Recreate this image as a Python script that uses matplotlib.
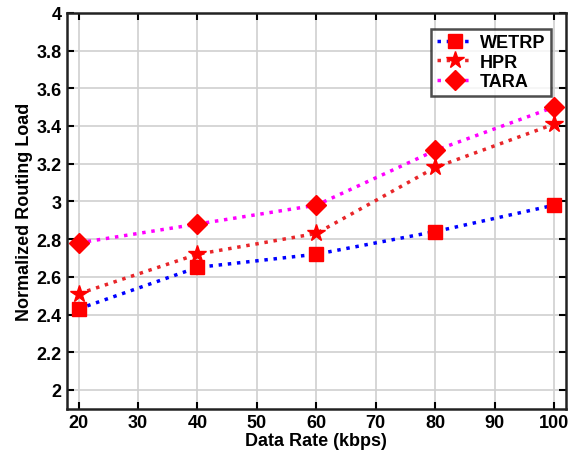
import matplotlib.pyplot as plt
import numpy as np

plt.rcParams['font.family'] = ['Liberation Sans', 'DejaVu Sans']
plt.rcParams['font.weight'] = 'bold'

rate = [20, 40, 60, 80, 100]
wetrp = [2.43, 2.65, 2.72, 2.84, 2.98]
hpr = [2.51, 2.72, 2.83, 3.18, 3.41]
tara = [2.78, 2.88, 2.98, 3.27, 3.50]

fig = plt.figure(figsize=(5.7, 4.6), dpi=100)
ax = fig.add_axes([0.117, 0.109, 0.876, 0.861])

ax.plot(rate, wetrp, ':', color='blue', lw=2.5, marker='s', ms=10,
        mfc='red', mec='red', label='WETRP')
ax.plot(rate, hpr, ':', color='#e8262a', lw=2.5, marker='*', ms=13,
        mfc='red', mec='red', label='HPR')
ax.plot(rate, tara, ':', color='magenta', lw=2.5, marker='D', ms=10,
        mfc='red', mec='red', label='TARA')

ax.set_xlim(18, 102)
ax.set_ylim(1.9, 4)
ax.set_xticks(np.arange(20, 101, 10))
ax.set_yticks(np.arange(2, 4.01, 0.2))
ax.set_yticklabels(['2', '2.2', '2.4', '2.6', '2.8', '3', '3.2', '3.4', '3.6', '3.8', '4'])
ax.tick_params(direction='in', top=True, right=True, labelsize=13, width=1.5, length=5)
ax.grid(True, color='#d0d0d0', lw=1.2)
for s in ax.spines.values():
    s.set_linewidth(1.8)
    s.set_color('#222222')

ax.set_xlabel('Data Rate (kbps)', fontsize=13, fontweight='bold', labelpad=1)
ax.set_ylabel('Normalized Routing Load', fontsize=13, fontweight='bold', labelpad=3)

leg = ax.legend(loc='upper right', bbox_to_anchor=(0.97, 0.96), borderaxespad=0,
                fancybox=False, edgecolor='#222222', fontsize=13, handlelength=2.0,
                borderpad=0.3, labelspacing=0.15, handletextpad=0.4)
leg.get_frame().set_linewidth(1.8)

fig.savefig('out.png', dpi=100)
